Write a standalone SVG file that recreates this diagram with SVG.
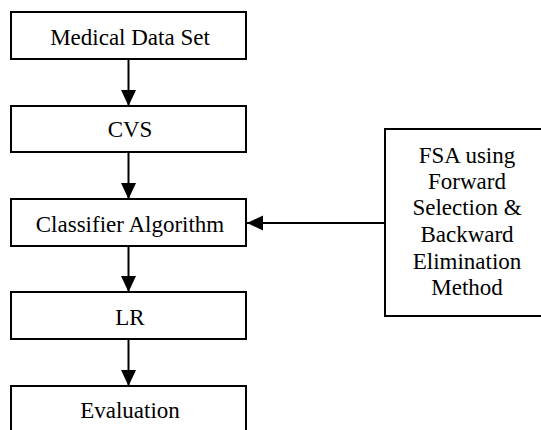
<svg xmlns="http://www.w3.org/2000/svg" width="541" height="430" viewBox="0 0 541 430">
<style>
.box{fill:#fff;stroke:#000;stroke-width:2}
.t{font-family:"Liberation Serif","Times New Roman",serif;font-size:23px;fill:#000;text-anchor:middle}
.c{stroke:#000;stroke-width:2;fill:none}
</style>
<defs>
<marker id="ah" markerUnits="userSpaceOnUse" markerWidth="16" markerHeight="16" viewBox="0 0 16 16" refX="16" refY="8" orient="auto">
<path d="M0,0.5 L16,8 L0,15.5 Z" fill="#000"/>
</marker>
</defs>
<rect width="541" height="430" fill="#fff"/>
<g id="n1"><rect class="box" x="11" y="12" width="235" height="47"/><text class="t" x="130" y="45">Medical Data Set</text></g>
<g id="n2"><rect class="box" x="11" y="106" width="235" height="46"/><text class="t" x="130" y="137">CVS</text></g>
<g id="n3"><rect class="box" x="11" y="199" width="235" height="47"/><text class="t" x="130" y="232">Classifier Algorithm</text></g>
<g id="n4"><rect class="box" x="11" y="292" width="235" height="47"/><text class="t" x="130" y="325">LR</text></g>
<g id="n5"><rect class="box" x="11" y="386" width="235" height="60"/><text class="t" x="130" y="418">Evaluation</text></g>
<g id="n6"><rect class="box" x="385" y="129" width="160" height="187"/>
<text class="t" x="467" y="163">FSA using</text>
<text class="t" x="467" y="189">Forward</text>
<text class="t" x="467" y="215">Selection &amp;</text>
<text class="t" x="467" y="242">Backward</text>
<text class="t" x="467" y="269">Elimination</text>
<text class="t" x="467" y="295">Method</text>
</g>
<g id="connectors">
<line class="c" x1="128.5" y1="59" x2="128.5" y2="106" marker-end="url(#ah)"/>
<line class="c" x1="128.5" y1="152" x2="128.5" y2="199" marker-end="url(#ah)"/>
<line class="c" x1="128.5" y1="246" x2="128.5" y2="292" marker-end="url(#ah)"/>
<line class="c" x1="128.5" y1="339" x2="128.5" y2="386" marker-end="url(#ah)"/>
<line class="c" x1="385" y1="223" x2="247" y2="223" marker-end="url(#ah)"/>
</g>
</svg>
